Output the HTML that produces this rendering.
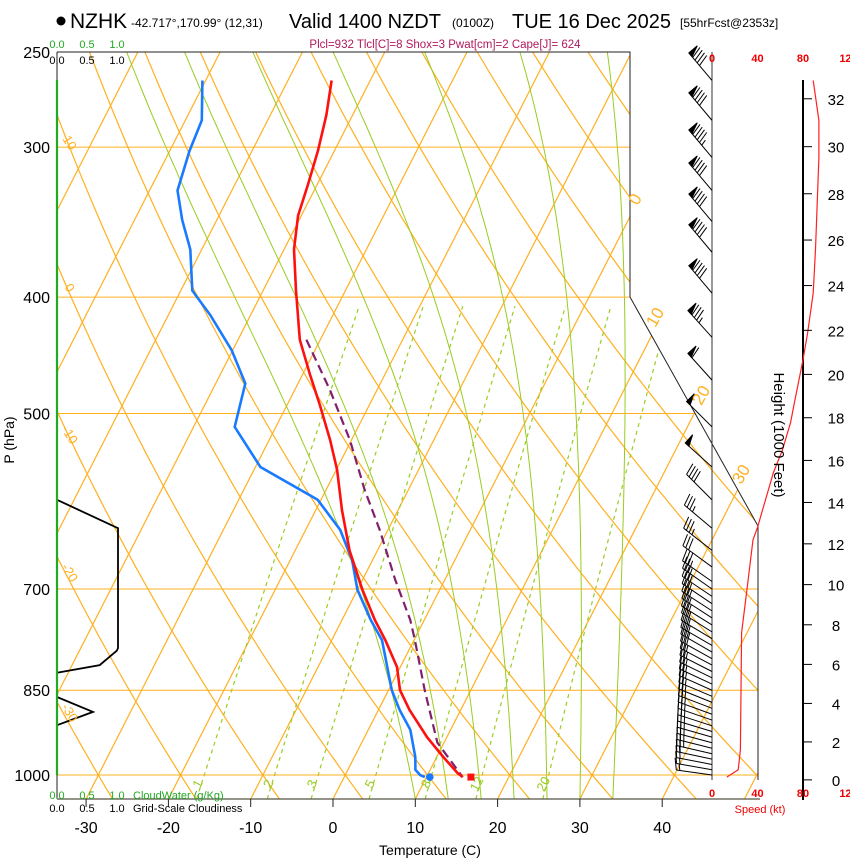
<!DOCTYPE html>
<html><head><meta charset="utf-8"><style>
body{margin:0;background:#fff;}
svg{display:block;font-family:"Liberation Sans",sans-serif;}
</style></head><body>
<svg id="chart" width="850" height="860" viewBox="0 0 850 860" xmlns="http://www.w3.org/2000/svg">
<defs><clipPath id="plotclip"><path d="M57,52 L630,52 L630,297 L758,526 L758,799 L57,799 Z"/></clipPath></defs>
<g id="bg" clip-path="url(#plotclip)"></g>
<g id="fg"></g>
<!-- header -->
<g>
<circle cx="61" cy="21" r="4.5" fill="#000"/>
<text x="70" y="28" font-size="21">NZHK</text>
<text x="131" y="27" font-size="12">-42.717°,170.99° (12,31)</text>
<text x="289" y="28" font-size="20">Valid 1400 NZDT</text>
<text x="452" y="27" font-size="12">(0100Z)</text>
<text x="512" y="28" font-size="20">TUE 16 Dec 2025</text>
<text x="680" y="27" font-size="12">[55hrFcst@2353z]</text>
<text x="445" y="48" font-size="11.5" fill="#b01a5e" text-anchor="middle">Plcl=932 Tlcl[C]=8 Shox=3 Pwat[cm]=2 Cape[J]= 624</text>
</g>
<g font-size="11">
<text x="57" y="48" fill="#22aa22" text-anchor="middle">0.0</text><text x="87" y="48" fill="#22aa22" text-anchor="middle">0.5</text><text x="117" y="48" fill="#22aa22" text-anchor="middle">1.0</text>
<text x="57" y="64" text-anchor="middle">0.0</text><text x="87" y="64" text-anchor="middle">0.5</text><text x="117" y="64" text-anchor="middle">1.0</text>
<text x="57" y="799" fill="#22aa22" text-anchor="middle">0.0</text><text x="87" y="799" fill="#22aa22" text-anchor="middle">0.5</text><text x="117" y="799" fill="#22aa22" text-anchor="middle">1.0</text>
<text x="133" y="799" fill="#22aa22">CloudWater (g/Kg)</text>
<text x="57" y="812" text-anchor="middle">0.0</text><text x="87" y="812" text-anchor="middle">0.5</text><text x="117" y="812" text-anchor="middle">1.0</text>
<text x="133" y="812">Grid-Scale Cloudiness</text>
</g>
<text x="430" y="855" font-size="14" text-anchor="middle">Temperature (C)</text>
<text transform="translate(14,440) rotate(-90)" font-size="14" text-anchor="middle">P (hPa)</text>
<text transform="translate(774,435) rotate(90)" font-size="15" text-anchor="middle">Height (1000 Feet)</text>
<text x="760" y="813" font-size="11" fill="#ee0000" text-anchor="middle">Speed (kt)</text>
</svg>
<script>
// ---- data ----
const pressureLevels=[1000,850,700,500,400,300,250];
const tempTicks=[-30,-20,-10,0,10,20,30,40];
const heightTicks=[0,2,4,6,8,10,12,14,16,18,20,22,24,26,28,30,32];
const speedTicks=[0,40,80,120];
const tempP=[264,282,302,323,342,365,395,434,464,492,526,557,602,650,701,743,772,813,850,883,930,966,996,1004];
const tempT=[-44.7,-43.2,-42.0,-41.1,-40.4,-38.8,-36.0,-32.5,-29.1,-26.0,-22.6,-19.9,-16.8,-13.4,-9.4,-6.0,-3.5,-0.4,1.4,3.8,7.6,10.8,13.5,14.4];
const dewP=[264,285,302,326,345,365,395,414,443,472,513,554,590,625,662,701,743,772,850,883,917,966,990,1000,1004];
const dewT=[-60.4,-58.0,-57.6,-56.6,-54.2,-51.4,-48.6,-44.9,-40.1,-36.4,-35.0,-29.4,-20.4,-15.8,-12.5,-10.0,-6.5,-3.9,0.4,2.6,5.1,7.4,8.2,9.1,9.8];
const parcelP=[434,478,526,579,625,688,743,772,850,940,1004];
const parcelT=[-31.7,-25.7,-20.2,-15.3,-11.0,-6.0,-1.7,0.1,4.4,9.2,14.4];
const sfcT=15.4, sfcTd=10.4, sfcP=1004;
const speedP=[264,285,306,365,397,429,451,487,509,536,560,622,637,697,761,953,990,1004];
const speedKt=[89,94,94,91,89,84,80,73,69,62,54,40,36,31,26,25,23,13];
const barbP=[264,285,306,326,346,367,397,432,469,513,554,590,623,650,671,690,700,710,720,730,740,750,760,770,780,790,800,810,820,830,840,850,860,870,880,890,900,910,920,930,940,950,960,970,980,990,1000];
const barbDir=[320,320,320,320,320,320,320,318,318,315,312,315,310,308,306,305,305,304,304,303,303,302,302,301,300,300,299,298,297,296,295,294,293,292,291,290,289,288,287,286,285,284,283,282,281,280,278];
const barbSpd=[88,92,93,92,91,90,88,84,62,52,50,40,35,33,32,31,30,30,30,30,29,29,29,28,28,28,28,27,27,27,26,26,26,26,25,25,25,25,25,25,24,24,23,22,20,17,13];
const cloudP=[560,590,623,784,788,810,822,850,861,886,909,1000];
const cloudF=[0,0,1,1,0.98,0.7,0,0,0,0.59,0,0];
const mixRatios=[1,2,3,5,8,12,20];
const isoLabelVals=[0,10,20,30];
const thetaLabelVals=[10,0,-10,-20,-30];
// ---- scales ----
const yOf=p=>775+521.5*Math.log(p/1000);
const xOf=(T,p)=>333+8.23*T+0.51*(799-yOf(p));
const sx=s=>712+s*45.5/40;
const NS="http://www.w3.org/2000/svg";
const bg=document.getElementById('bg'), fg=document.getElementById('fg'), svg=document.getElementById('chart');
function mk(tag,attrs,parent){const e=document.createElementNS(NS,tag);for(const k in attrs)e.setAttribute(k,attrs[k]);(parent||fg).appendChild(e);return e;}
function poly(pts){return pts.map((p,i)=>(i?'L':'M')+p[0].toFixed(1)+','+p[1].toFixed(1)).join(' ');}
const ORANGE='#ffb020', GREEN='#99cc22';
// isotherms
for(let T=-110;T<=50;T+=10){
 const l=mk('line',{x1:xOf(T,1050),y1:yOf(1050),x2:xOf(T,240),y2:yOf(240),stroke:ORANGE,'stroke-width':1.2},bg);
 
 
}
// dry adiabats
for(let th=-40;th<=180;th+=10){
 const pts=[];for(let p=1050;p>=240;p-=10){const T=(th+273.15)*Math.pow(p/1000,0.2857)-273.15;pts.push([xOf(T,p),yOf(p)]);}
 const e=mk('path',{d:poly(pts),fill:'none',stroke:ORANGE,'stroke-width':1.2},bg);
 
 
}
// moist adiabats
for(let t0=10;t0<=34;t0+=4){
 let T=t0+273.15;const pts=[];
 for(let p=1047;p>=245;p-=5){
  pts.push([xOf(T-273.15,p),yOf(p)]);
  const es=6.112*Math.exp(17.67*(T-273.15)/(T-29.65));const rs=0.622*es/(p-es);
  const dTdp=(287*T+2.5e6*rs)/(p*(1004+2.5e6*2.5e6*rs*0.622/(287*T*T)));
  T+=dTdp*(-5);
 }
 const e=mk('path',{d:poly(pts),fill:'none',stroke:GREEN,'stroke-width':1},bg);
 
 
}
// mixing ratio lines
function tdw(w,p){const e=w*p/(622+w);const l=Math.log(e/6.112);return 243.5*l/(17.67-l);}
mixRatios.forEach(w=>{
 const pts=[];for(let p=1047;p>=400;p-=10)pts.push([xOf(tdw(w,p),p),yOf(p)]);
 const e=mk('path',{d:poly(pts),fill:'none',stroke:GREEN,'stroke-width':1.2,'stroke-dasharray':'4,4'},bg);
 
 
 const x=xOf(tdw(w,1035),1035);
 const t=mk('text',{transform:`translate(${x+3},786) rotate(-62)`,'font-size':13,fill:GREEN,'text-anchor':'middle'},bg);
 t.textContent=w;
 
 
});
// pressure grid
pressureLevels.forEach(p=>{
 const y=yOf(p);
 const l=mk('line',{x1:57,y1:y,x2:760,y2:y,stroke:p===250?'#554':ORANGE,'stroke-width':1},bg);
 
 
 const t=mk('text',{x:50,y:y+6,'font-size':16,'text-anchor':'end'},svg);
 t.textContent=p;
 
 
});
// labels on isotherms & adiabats
isoLabelVals.forEach((v,i)=>{
 const pos=[[640,202],[660,320],[706,398],[746,477]][i];
 const t=mk('text',{transform:`translate(${pos[0]},${pos[1]}) rotate(-60)`,'font-size':17,fill:ORANGE,'text-anchor':'middle'},svg);
 t.textContent=v;
 
 
});
thetaLabelVals.forEach((v,i)=>{
 const yy=[145,290,437,575,715][i];
 const t=mk('text',{transform:`translate(66,${yy}) rotate(58)`,'font-size':13,fill:ORANGE,'text-anchor':'middle'},svg);
 t.textContent=v;
 
 
});
// frame
mk('path',{d:'M57,52 L630,52 L630,297 L758,526 L758,780',fill:'none',stroke:'#222','stroke-width':1});
mk('line',{x1:57,y1:52,x2:57,y2:799,stroke:'#222','stroke-width':1});
mk('line',{x1:57,y1:799,x2:760,y2:799,stroke:'#554','stroke-width':1.2});
tempTicks.forEach(T=>{
 const x=333+8.23*T;
 mk('line',{x1:x,y1:799,x2:x,y2:807,stroke:'#222'});
 const t=mk('text',{x:x,y:833,'font-size':16,'text-anchor':'middle'},svg);
 t.textContent=T;
 
 
});
// cloud profile
{
 const pts=cloudP.map((p,i)=>[57+61*cloudF[i],yOf(p)]);
 const e=mk('path',{d:poly(pts),fill:'none',stroke:'#000','stroke-width':1.8});
 
 
 const g=mk('line',{x1:57,y1:80,x2:57,y2:775,stroke:'#22aa22','stroke-width':2.2});
 
 
}
// parcel
{
 const e=mk('path',{d:poly(parcelP.map((p,i)=>[xOf(parcelT[i],p),yOf(p)])),fill:'none',stroke:'#80206a','stroke-width':2.2,'stroke-dasharray':'9,5'});
 
 
}
{
 const e=mk('path',{d:poly(dewP.map((p,i)=>[xOf(dewT[i],p),yOf(p)])),fill:'none',stroke:'#1a7aff','stroke-width':2.6});
 
 
 const t=mk('path',{d:poly(tempP.map((p,i)=>[xOf(tempT[i],p),yOf(p)])),fill:'none',stroke:'#ff1010','stroke-width':2.6});
 
 
 const c1=mk('circle',{cx:xOf(sfcTd,sfcP),cy:yOf(sfcP),r:3.8,fill:'#1a7aff'});
 
 
 const c2=mk('rect',{x:xOf(sfcT,sfcP)-3.5,y:yOf(sfcP)-3.5,width:7,height:7,fill:'#ff1010'});
 
 
}
// wind axis and speed
mk('line',{x1:712,y1:52,x2:712,y2:780,stroke:'#333','stroke-width':1});
mk('line',{x1:803,y1:80,x2:803,y2:800,stroke:'#000','stroke-width':2});
speedTicks.forEach(s=>{
 [62,797].forEach(y=>{
  const t=mk('text',{x:sx(s),y:y,'font-size':11,'font-weight':'bold',fill:'#ee0000','text-anchor':'middle'},svg);
  t.textContent=s;
  
  
 });
});
{
 const e=mk('path',{d:poly(speedP.map((p,i)=>[sx(speedKt[i]),yOf(p)])),fill:'none',stroke:'#ff2020','stroke-width':1.2});
 
 
}
heightTicks.forEach(h=>{
 const p=1013.25*Math.pow(1-6.8756e-6*h*1000,5.2559);const y=yOf(p)-2;
 mk('line',{x1:803,y1:y,x2:812,y2:y,stroke:'#000'});
 const t=mk('text',{x:836,y:y+6,'font-size':15,'text-anchor':'middle'},svg);
 t.textContent=h;
 
 
});
// barbs
barbP.forEach((p,i)=>{
 const y=yOf(p),a=barbDir[i]*Math.PI/180;
 const dx=Math.sin(a),dy=-Math.cos(a),nx=-dy,ny=dx,L=36;
 const tx=712+dx*L,ty=y+dy*L;
 const g=mk('g',{stroke:'#000','stroke-width':1,fill:'#000'});
 
 
 mk('line',{x1:712,y1:y,x2:tx,y2:ty},g);
 let s=Math.round(barbSpd[i]/5)*5,d=0;
 while(s>=50){mk('path',{d:`M${tx-dx*d},${ty-dy*d} L${tx-dx*d+nx*11},${ty-dy*d+ny*11} L${tx-dx*(d+5)},${ty-dy*(d+5)} Z`},g);d+=6;s-=50;}
 while(s>=10){mk('line',{x1:tx-dx*d,y1:ty-dy*d,x2:tx-dx*d+nx*12+dx*3,y2:ty-dy*d+ny*12+dy*3},g);d+=3.5;s-=10;}
 if(s>=5){mk('line',{x1:tx-dx*d,y1:ty-dy*d,x2:tx-dx*d+nx*6+dx*1.5,y2:ty-dy*d+ny*6+dy*1.5},g);}
});
</script>
</body></html>
